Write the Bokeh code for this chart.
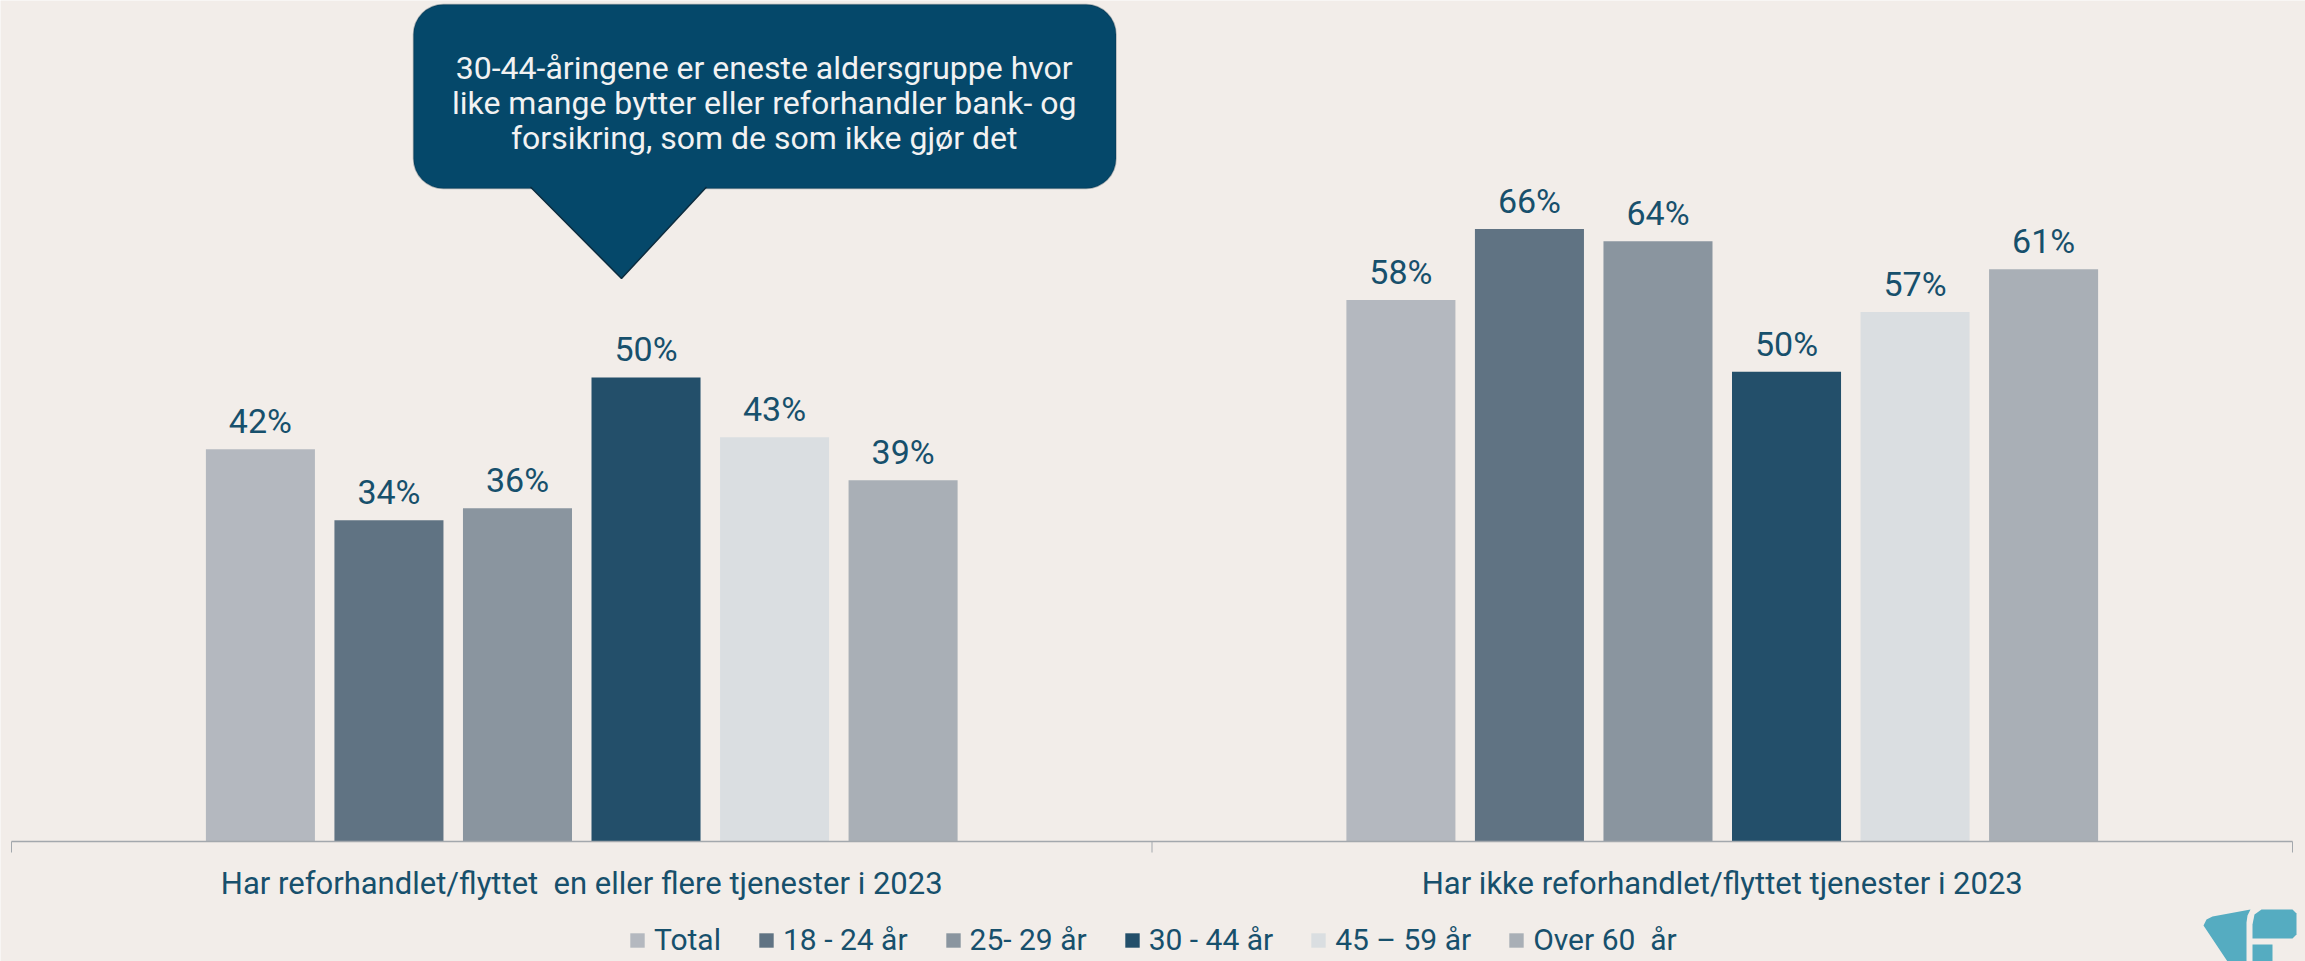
from bokeh.plotting import figure
from bokeh.models import (Range1d, Legend, LegendItem, BoxAnnotation, ColumnDataSource)
from bokeh.core.properties import value
from bokeh.embed import file_html
from bokeh.resources import INLINE

# ---------------- data ----------------
categories = ["Har reforhandlet/flyttet  en eller flere tjenester i 2023",
              "Har ikke reforhandlet/flyttet tjenester i 2023"]
series = ["Total", "18 - 24 år", "25- 29 år", "30 - 44 år", "45 – 59 år", "Over 60  år"]
total = [42.0, 58.0]
age_18_24 = [34.4, 65.6]
age_25_29 = [35.7, 64.3]
age_30_44 = [49.7, 50.3]
age_45_59 = [43.3, 56.7]
age_over_60 = [38.7, 61.3]
callout_lines = ["30-44-åringene er eneste aldersgruppe hvor",
                 "like mange bytter eller reforhandler bank- og",
                 "forsikring, som de som ikke gjør det"]

values_by_series = [total, age_18_24, age_25_29, age_30_44, age_45_59, age_over_60]
colors = ["#B4B8BF", "#607383", "#8A959F", "#234F6A", "#DADEE1", "#A9AFB6"]

BG = "#F2EDE9"
TXT = "#17506C"
AXIS = "#A3A8AD"
FONT = "Roboto"
CALLOUT = "#05486A"
LOGO = "#55ACC1"

W, H = 2305, 961
AX_LEFT, AX_RIGHT, AX_Y = 11, 2292, 841          # axis position in pixels
ncat = len(categories)
px_x = (AX_RIGHT - AX_LEFT) / ncat               # pixels per category
px_y = 9.337                                     # pixels per percentage point


def keep_spaces(s):
    # SVG collapses double spaces; keep them visible
    return s.replace("  ", " \u00a0")


def to_data(px, py):
    return (px - AX_LEFT) / px_x, (AX_Y - py) / px_y


p = figure(x_range=Range1d(-AX_LEFT / px_x, ncat + (W - AX_RIGHT) / px_x),
           y_range=Range1d(-(H - AX_Y) / px_y, AX_Y / px_y),
           width=W, height=H, output_backend="svg", toolbar_location=None,
           x_axis_location=None, y_axis_location=None,
           min_border=0, min_border_left=0, min_border_right=0,
           min_border_top=0, min_border_bottom=0,
           background_fill_color=BG, border_fill_color=BG, outline_line_color=None)
p.xgrid.grid_line_color = None
p.ygrid.grid_line_color = None

centers = [k + 0.5 for k in range(ncat)]
step = 0.1127
bw = 0.0956
renderers = []
for i, (name, vals, col) in enumerate(zip(series, values_by_series, colors)):
    off = (i - (len(series) - 1) / 2) * step
    src = ColumnDataSource(dict(x=[c + off for c in centers], val=vals,
                                lbl=[f"{int(v + 0.5)}%" for v in vals]))
    r = p.vbar(x="x", top="val", width=bw, fill_color=col, line_color=None, source=src)
    renderers.append(r)
    p.text(x="x", y="val", text="lbl", source=src,
           text_align="center", text_baseline="alphabetic", y_offset=-28,
           text_font=value(FONT), text_font_size="34px", text_color=TXT)

# category axis: line, boundary ticks (Excel style) and labels
bounds = list(range(ncat + 1))
p.segment(x0=[0], y0=[0], x1=[ncat], y1=[0], line_color=AXIS, line_width=1.5)
p.segment(x0=bounds, y0=[0] * len(bounds), x1=bounds, y1=[-11 / px_y] * len(bounds),
          line_color=AXIS, line_width=1)
p.text(x=centers, y=[0] * ncat, text=[keep_spaces(c) for c in categories],
       text_align="center", text_baseline="alphabetic", y_offset=42,
       text_font=value(FONT), text_font_size="31px", text_color=TXT)

legend = Legend(items=[LegendItem(label=keep_spaces(s), renderers=[r]) for s, r in zip(series, renderers)],
                orientation="horizontal", location=(628, 4),
                glyph_width=18, glyph_height=18, label_standoff=8, spacing=36,
                padding=0, margin=0, label_text_font=FONT, label_text_font_size="30px",
                label_text_color=TXT, background_fill_alpha=0, border_line_color=None)
p.add_layout(legend)

# callout bubble
bl, bt = to_data(413, 4)
br, bb = to_data(1115.5, 188)
box = BoxAnnotation(left=bl, right=br, top=bt, bottom=bb,
                    fill_color=CALLOUT, fill_alpha=1, line_color="#0B2C3F", line_width=1.5,
                    border_radius=30, level="annotation")
p.add_layout(box)
tri = [to_data(530, 186.5), to_data(621, 278), to_data(706, 186.5)]
tri_x = [t[0] for t in tri]
tri_y = [t[1] for t in tri]
p.patch(tri_x, tri_y, fill_color=CALLOUT, line_color=None, level="overlay")
p.line(tri_x, tri_y, line_color="#0B2C3F", line_width=1.5, level="overlay")
p.text(x=[0.660, 0.660, 0.660], y=[82.84, 79.06, 75.38], text=callout_lines,
       text_align="center", text_baseline="alphabetic", text_font=value(FONT),
       text_font_size="32px", text_color="#F2F2F2", level="overlay")

# logo (decorative, bottom-right corner; cut by the picture edge)
logo_shapes = [
    [(2203, 925), (2206, 919), (2212, 916), (2250, 909), (2247, 915), (2246, 922), (2246, 961), (2227, 961)],
    [(2252, 924), (2254, 914), (2261, 909), (2292, 909), (2296, 913), (2296, 934), (2292, 938), (2252, 938)],
    [(2252, 944), (2272, 944), (2272, 961), (2252, 961)],
]
for shape in logo_shapes:
    pts = [to_data(a, b) for a, b in shape]
    p.patch([q[0] for q in pts], [q[1] for q in pts], fill_color=LOGO, line_color=None)

open("out.html", "w").write(file_html(p, INLINE))
